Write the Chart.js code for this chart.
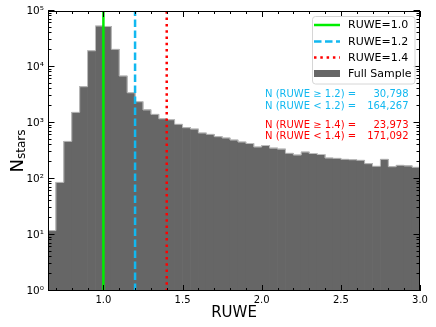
<!DOCTYPE html>
<html>
<head>
<meta charset="utf-8">
<script src="https://cdn.jsdelivr.net/npm/chart.js@4.4.1/dist/chart.umd.min.js"></script>
<style>
  body { margin: 0; background: #fff; }
  #wrap { width: 436px; height: 327px; position: relative; }
</style>
</head>
<body>
<div id="wrap"><canvas id="ruweChart"></canvas></div>
<script>
// histogram bins (lower edges, width 0.05) and star counts
const binStarts = [0.65, 0.70, 0.75, 0.80, 0.85, 0.90, 0.95, 1.00, 1.05, 1.10,
                   1.15, 1.20, 1.25, 1.30, 1.35, 1.40, 1.45, 1.50, 1.55, 1.60,
                   1.65, 1.70, 1.75, 1.80, 1.85, 1.90, 1.95, 2.00, 2.05, 2.10,
                   2.15, 2.20, 2.25, 2.30, 2.35, 2.40, 2.45, 2.50, 2.55, 2.60,
                   2.65, 2.70, 2.75, 2.80, 2.85, 2.90, 2.95];
const counts = [12, 87, 470, 1550, 4450, 19500, 54000, 53000, 20700, 6900,
                3470, 2400, 1710, 1430, 1190, 1145, 950, 825, 780, 663,
                628, 570, 540, 497, 458, 430, 373, 396, 355, 341,
                288, 268, 303, 285, 274, 237, 234, 225, 221, 216,
                188, 169, 225, 166, 176, 171, 162];
const binWidth = 0.05;

const refValues = [1.0, 1.2, 1.4];
const refLabels = ['RUWE=1.0', 'RUWE=1.2', 'RUWE=1.4'];
const histLabel = 'Full Sample';

const xTickValues = [1.0, 1.5, 2.0, 2.5, 3.0];
const xTickLabels = ['1.0', '1.5', '2.0', '2.5', '3.0'];
const yTickValues = [1, 10, 100, 1000, 10000, 100000];
const yTickLabels = ['10\u2070', '10\u00b9', '10\u00b2', '10\u00b3', '10\u2074', '10\u2075'];

const statLabels = ['N (RUWE \u2265 1.2) =', 'N (RUWE < 1.2) =', 'N (RUWE \u2265 1.4) =', 'N (RUWE < 1.4) ='];
const statValues = ['30,798', '164,267', '23,973', '171,092'];

const FONT = "'DejaVu Sans', sans-serif";
const GREEN = '#00ee00';
const CYAN = '#12b8f0';
const RED = '#ff0000';
const HIST = '#666666';

const lineStyles = [
    { color: GREEN, dash: [] },
    { color: CYAN, dash: [7.5, 3.5] },
    { color: RED, dash: [2.5, 3.8] }
];

Chart.defaults.font.family = FONT;
Chart.defaults.color = '#000';

// ticks, frame, legend, text boxes and y title
const overlay = {
    id: 'overlay',
    afterDraw(chart) {
        const { ctx, chartArea: a, scales: { x, y } } = chart;
        ctx.save();

        // inward ticks on all four sides
        ctx.strokeStyle = '#000';
        ctx.lineWidth = 1;
        const vTick = (px, len) => {
            const p = Math.round(px) + 0.5;
            ctx.beginPath();
            ctx.moveTo(p, a.bottom); ctx.lineTo(p, a.bottom - len);
            ctx.moveTo(p, a.top); ctx.lineTo(p, a.top + len);
            ctx.stroke();
        };
        const hTick = (py, len) => {
            const p = Math.round(py) - 0.5;
            ctx.beginPath();
            ctx.moveTo(a.left, p); ctx.lineTo(a.left + len, p);
            ctx.moveTo(a.right, p); ctx.lineTo(a.right - len, p);
            ctx.stroke();
        };
        for (let v = 0.7; v < 3.0; v += 0.1) vTick(x.getPixelForValue(v), 3);
        xTickValues.forEach(v => vTick(x.getPixelForValue(v), 6));
        for (let d = 0; d < 5; d++) {
            for (let m = 2; m <= 9; m++) hTick(y.getPixelForValue(m * Math.pow(10, d)), 3.5);
        }
        yTickValues.forEach(v => hTick(y.getPixelForValue(v), 6.5));

        // frame
        ctx.strokeRect(a.left + 0.5, a.top + 0.5, a.right - a.left - 1, a.bottom - a.top - 1);

        // legend
        const lx = 312.5, ly = 16.5, lw = 102.5, lh = 67.5, r = 3;
        ctx.beginPath();
        ctx.moveTo(lx + r, ly);
        ctx.arcTo(lx + lw, ly, lx + lw, ly + lh, r);
        ctx.arcTo(lx + lw, ly + lh, lx, ly + lh, r);
        ctx.arcTo(lx, ly + lh, lx, ly, r);
        ctx.arcTo(lx, ly, lx + lw, ly, r);
        ctx.closePath();
        ctx.fillStyle = 'rgba(255,255,255,0.85)';
        ctx.fill();
        ctx.strokeStyle = '#d6d6d6';
        ctx.stroke();

        ctx.font = '11px ' + FONT;
        ctx.textBaseline = 'middle';
        ctx.textAlign = 'left';
        const rows = [25, 41.5, 57.5, 73.5];
        refLabels.forEach((lab, i) => {
            ctx.strokeStyle = lineStyles[i].color;
            ctx.lineWidth = 2.5;
            ctx.setLineDash(lineStyles[i].dash);
            ctx.beginPath();
            ctx.moveTo(314, rows[i]); ctx.lineTo(340, rows[i]);
            ctx.stroke();
            ctx.setLineDash([]);
            ctx.fillStyle = '#000';
            ctx.fillText(lab, 348, rows[i] + 0.5);
        });
        ctx.fillStyle = HIST;
        ctx.fillRect(314, rows[3] - 3.5, 26, 7);
        ctx.fillStyle = '#000';
        ctx.fillText(histLabel, 348, rows[3] + 0.5);

        // counts above / below thresholds
        ctx.font = '10px ' + FONT;
        const statRows = [94, 106, 125.5, 136.5];
        const statColors = [CYAN, CYAN, RED, RED];
        statLabels.forEach((lab, i) => {
            ctx.fillStyle = statColors[i];
            ctx.textAlign = 'left';
            ctx.fillText(lab, 265, statRows[i]);
            ctx.textAlign = 'right';
            ctx.fillText(statValues[i], 408.5, statRows[i]);
        });

        // y axis title N_stars
        ctx.save();
        ctx.translate(22.5, 151);
        ctx.rotate(-Math.PI / 2);
        ctx.fillStyle = '#000';
        ctx.textAlign = 'left';
        ctx.textBaseline = 'alphabetic';
        ctx.font = '18px ' + FONT;
        const wN = ctx.measureText('N').width;
        ctx.font = '12px ' + FONT;
        const wS = ctx.measureText('stars').width;
        const x0 = -(wN + wS) / 2;
        ctx.font = '18px ' + FONT;
        ctx.fillText('N', x0, 0);
        ctx.font = '12px ' + FONT;
        ctx.fillText('stars', x0 + wN, 2);
        ctx.restore();

        ctx.restore();
    }
};

const histData = binStarts.map((b, i) => ({ x: b + binWidth / 2, y: counts[i] }));
// step outline along the bin edges
const outlineData = binStarts.map((b, i) => ({ x: b, y: counts[i] }));
outlineData.push({ x: binStarts[binStarts.length - 1] + binWidth, y: counts[counts.length - 1] });

const refDatasets = refValues.map((v, i) => ({
    type: 'line',
    label: refLabels[i],
    data: [{ x: v, y: 1 }, { x: v, y: 100000 }],
    borderColor: lineStyles[i].color,
    borderWidth: 2.5,
    borderDash: lineStyles[i].dash,
    borderCapStyle: 'butt',
    pointRadius: 0,
    fill: false,
    order: 0
}));

new Chart(document.getElementById('ruweChart'), {
    type: 'bar',
    data: {
        datasets: [
            ...refDatasets,
            {
                type: 'line',
                label: 'outline',
                data: outlineData,
                stepped: 'before',
                borderColor: '#bdbdbd',
                borderWidth: 1,
                pointRadius: 0,
                fill: false,
                order: 1
            },
            {
                label: histLabel,
                data: histData,
                backgroundColor: HIST,
                borderWidth: 0,
                barPercentage: 1,
                categoryPercentage: 1,
                grouped: false,
                order: 2
            }
        ]
    },
    options: {
        responsive: true,
        maintainAspectRatio: false,
        animation: false,
        layout: { padding: { left: 0, top: 11, right: 16, bottom: 0 } },
        plugins: {
            legend: { display: false },
            tooltip: { enabled: false }
        },
        scales: {
            x: {
                type: 'linear',
                min: 0.65,
                max: 3.0,
                offset: false,
                grid: { display: false, drawTicks: false, offset: false },
                border: { display: false },
                afterBuildTicks: s => { s.ticks = xTickValues.map(v => ({ value: v })); },
                afterFit: s => { s.height = 36; },
                ticks: {
                    autoSkip: false,
                    maxRotation: 0,
                    padding: 3,
                    font: { size: 10 },
                    callback: (v, i) => xTickLabels[i]
                },
                title: {
                    display: true,
                    text: 'RUWE',
                    font: { size: 15 },
                    padding: { top: 0, bottom: 5 }
                }
            },
            y: {
                type: 'logarithmic',
                min: 1,
                max: 100000,
                grid: { display: false, drawTicks: false },
                border: { display: false },
                afterBuildTicks: s => { s.ticks = yTickValues.map(v => ({ value: v })); },
                afterFit: s => { s.width = 48; },
                ticks: {
                    autoSkip: false,
                    padding: 4,
                    font: { size: 10.5 },
                    callback: (v, i) => yTickLabels[i]
                }
            }
        }
    },
    plugins: [overlay]
});
</script>
</body>
</html>
